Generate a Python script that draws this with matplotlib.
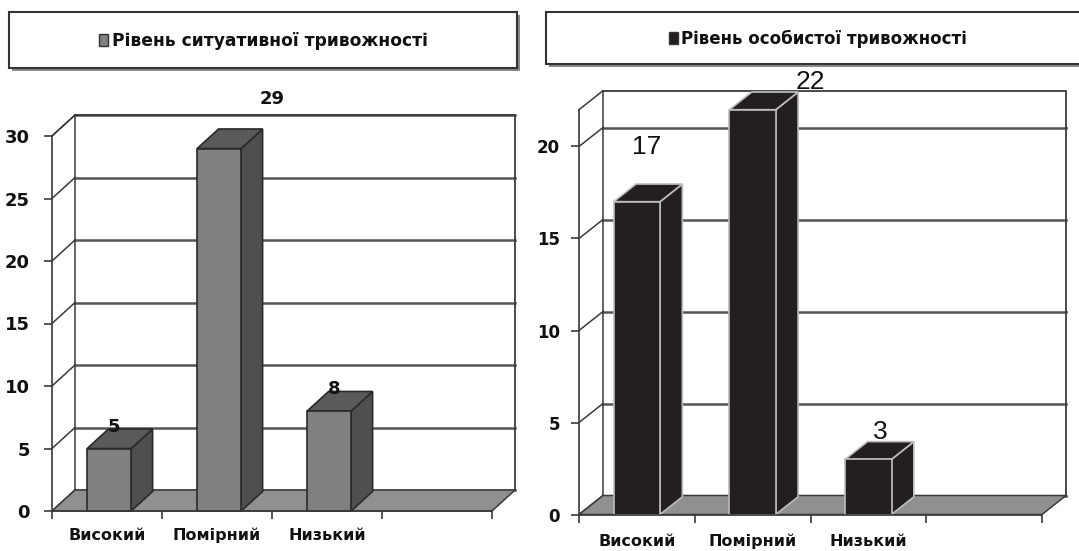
import matplotlib.pyplot as plt
from matplotlib.patches import Polygon, Rectangle

W, H = 1079, 551

CATEGORIES = ['Високий', 'Помірний', 'Низький']
SITUATIONAL = [5, 29, 8]
PERSONAL = [17, 22, 3]
SITUATIONAL_TITLE = 'Рівень ситуативної тривожності'
PERSONAL_TITLE = 'Рівень особистої тривожності'
SITUATIONAL_TICKS = [0, 5, 10, 15, 20, 25, 30]
PERSONAL_TICKS = [0, 5, 10, 15, 20]

plt.rcParams['font.family'] = ['DejaVu Sans']

fig = plt.figure(figsize=(W / 100, H / 100), dpi=100)


def fx(x):
    return x / W


def fy(y):
    return 1 - y / H


def legend_box(x0, y0, x1, y1, marker_x, text_x, face, title, size):
    # shadowed frame with a small colour key and the series name
    fig.add_artist(Rectangle((fx(x0 + 3), fy(y1 + 3)), fx(x1 - x0), (y1 - y0) / H,
                             transform=fig.transFigure, fc='#8a8a8a', ec='none'))
    fig.add_artist(Rectangle((fx(x0), fy(y1)), fx(x1 - x0), (y1 - y0) / H,
                             transform=fig.transFigure, fc='white', ec='#333333', lw=1.5))
    ym = (y0 + y1) / 2
    fig.add_artist(Rectangle((fx(marker_x), fy(ym + 6)), fx(9), 12 / H,
                             transform=fig.transFigure, fc=face, ec='#333333', lw=1))
    fig.text(fx(text_x), fy(ym + 1), title, ha='left', va='center',
             fontsize=size, fontweight='bold', color='#111111')


def panel(values, ticks, ymax, box, depth, center, face, side, top, edge,
          tick_size, tick_pad, cat_pad, label_size, label_weight, label_family, shifts):
    x0, x1, ybase, ytop = box
    ax = fig.add_axes([fx(x0), fy(ybase), fx(x1 - x0), (ybase - ytop) / H])
    ax.set_xlim(0, 4)
    ax.set_ylim(0, ymax)
    ax.patch.set_visible(False)
    ddx = depth[0] * 4 / (x1 - x0)
    ddy = depth[1] * ymax / (ybase - ytop)
    wall = '#3a3a3a'

    # back wall gridlines and the slanted lines on the side wall
    for t in ticks:
        ax.plot([ddx, 4 + ddx], [t + ddy, t + ddy], color='#555555', lw=1.8,
                clip_on=False, zorder=1)
        ax.plot([0, ddx], [t, t + ddy], color=wall, lw=1.1, clip_on=False, zorder=1)
    ax.plot([0, ddx], [ymax, ymax + ddy], color=wall, lw=1.1, clip_on=False, zorder=1)
    ax.plot([ddx, 4 + ddx, 4 + ddx], [ymax + ddy, ymax + ddy, ddy],
            color=wall, lw=1.3, clip_on=False, zorder=1)
    ax.plot([ddx, ddx], [ddy, ymax + ddy], color=wall, lw=1.1, clip_on=False, zorder=1)

    # grey floor
    ax.add_patch(Polygon([(0, 0), (4, 0), (4 + ddx, ddy), (ddx, ddy)], closed=True,
                         fc='#909090', ec=wall, lw=1.1, clip_on=False, zorder=2))

    # pseudo-3d columns
    bw = 0.40
    bx, by = ddx * 0.93, ddy * 0.93
    for i, v in enumerate(values):
        l = i + center - bw / 2
        r = l + bw
        ax.add_patch(Polygon([(r, 0), (r + bx, by), (r + bx, v + by), (r, v)], closed=True,
                             fc=side, ec=edge, lw=1.2, clip_on=False, zorder=3))
        ax.add_patch(Polygon([(l, v), (r, v), (r + bx, v + by), (l + bx, v + by)], closed=True,
                             fc=top, ec=edge, lw=1.2, clip_on=False, zorder=3))
        ax.add_patch(Rectangle((l, 0), bw, v, fc=face, ec=edge, lw=1.2,
                               clip_on=False, zorder=4))
        ax.annotate(str(v), (i + center, v), xytext=shifts[i], textcoords='offset pixels',
                    ha='center', va='center', fontsize=label_size,
                    fontweight=label_weight, family=label_family, color='#111111',
                    zorder=6, annotation_clip=False)

    for s in ('top', 'right'):
        ax.spines[s].set_visible(False)
    for s in ('left', 'bottom'):
        ax.spines[s].set_color(wall)
        ax.spines[s].set_linewidth(1.2)
        ax.spines[s].set_zorder(5)
    ax.set_yticks(ticks)
    ax.set_yticklabels([str(t) for t in ticks])
    ax.tick_params(axis='y', length=6, width=1.2, color=wall, pad=tick_pad,
                   labelsize=tick_size, labelcolor='#111111')
    for lab in ax.get_yticklabels():
        lab.set_fontweight('bold')
    ax.set_xticks([0, 1, 2, 3, 4], minor=True)
    ax.set_xticks([i + 0.5 for i in range(len(CATEGORIES))])
    ax.set_xticklabels(CATEGORIES)
    ax.tick_params(axis='x', which='major', length=0, pad=cat_pad,
                   labelsize=11.5, labelcolor='#111111')
    ax.tick_params(axis='x', which='minor', length=6, width=1.2, color=wall, direction='out')
    for lab in ax.get_xticklabels():
        lab.set_fontweight('bold')
    return ax


legend_box(9, 12, 517, 68, 99, 112, '#808080', SITUATIONAL_TITLE, 12.3)
legend_box(546, 12, 1090, 64, 669, 681, '#231f20', PERSONAL_TITLE, 12)

panel(SITUATIONAL, SITUATIONAL_TICKS, 30, (52, 492, 511, 136), (23, 21), 0.52,
      '#808080', '#4f4f4f', '#5a5a5a', '#2a2a2a', 13, 10, 12, 13, 'bold',
      ['DejaVu Sans'], [(5, 22), (53, 49), (5, 22)])
panel(PERSONAL, PERSONAL_TICKS, 22, (579, 1042, 514.5, 109.7), (24, 19), 0.50,
      '#231f20', '#231f20', '#231f20', '#bdbdbd', 12, 7.7, 14, 19, 'normal',
      ['Liberation Sans', 'DejaVu Sans'], [(10, 55), (58, 28), (12, 27)])

fig.savefig('out.png', dpi=100)
